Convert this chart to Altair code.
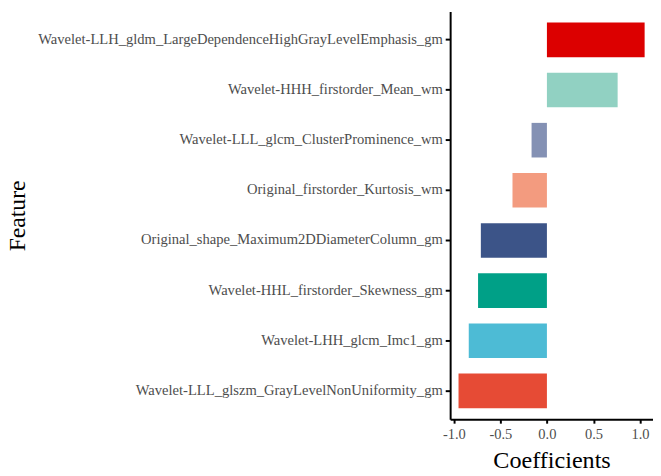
import altair as alt
import pandas as pd

features = [
    "Wavelet-LLH_gldm_LargeDependenceHighGrayLevelEmphasis_gm",
    "Wavelet-HHH_firstorder_Mean_wm",
    "Wavelet-LLL_glcm_ClusterProminence_wm",
    "Original_firstorder_Kurtosis_wm",
    "Original_shape_Maximum2DDiameterColumn_gm",
    "Wavelet-HHL_firstorder_Skewness_gm",
    "Wavelet-LHH_glcm_Imc1_gm",
    "Wavelet-LLL_glszm_GrayLevelNonUniformity_gm",
]
coefficients = [1.05, 0.76, -0.165, -0.37, -0.71, -0.74, -0.84, -0.95]
colors = ["#DC0000", "#91D1C2", "#8491B4", "#F39B7F", "#3C5488", "#00A087", "#4DBBD5", "#E64B35"]
x_ticks = [-1.0, -0.5, 0.0, 0.5, 1.0]

df = pd.DataFrame({"Feature": features, "Coefficients": coefficients})

font = "Liberation Serif"

chart = alt.Chart(df).mark_bar().encode(
    x=alt.X(
        "Coefficients:Q",
        scale=alt.Scale(domain=[-1.04, 1.14], nice=False, zero=False),
        axis=alt.Axis(
            values=x_ticks,
            labelExpr="datum.value < 0 ? '-' + format(-datum.value, '.1f') : format(datum.value, '.1f')",
            title="Coefficients",
            grid=False,
            domainColor="black",
            domainWidth=2,
            tickColor="black",
            tickWidth=2,
            tickSize=4,
            labelColor="#4D4D4D",
            labelFont=font,
            labelFontSize=14.7,
            labelPadding=4,
            titleFont=font,
            titleFontSize=24.5,
            titleFontWeight="normal",
            titleColor="black",
            titleY=49,
            titleBaseline="alphabetic",
        ),
    ),
    y=alt.Y(
        "Feature:N",
        sort=features,
        scale=alt.Scale(paddingInner=0.31, paddingOuter=0.22),
        axis=alt.Axis(
            title="Feature",
            grid=False,
            domainColor="black",
            domainWidth=2,
            tickColor="black",
            tickWidth=2,
            tickSize=5,
            labelColor="#4D4D4D",
            labelFont=font,
            labelFontSize=14.8,
            labelPadding=3,
            labelLimit=1000,
            titleFont=font,
            titleFontSize=24,
            titleFontWeight="normal",
            titleColor="black",
            titleX=-432,
            titleY=207,
            titleAngle=-90,
            titleBaseline="alphabetic",
            titleAlign="center",
        ),
    ),
    color=alt.Color(
        "Feature:N",
        scale=alt.Scale(domain=features, range=colors),
        legend=None,
    ),
).properties(
    width=206,
    height=414,
    autosize=alt.AutoSizeParams(type="none"),
    padding={"left": 449, "top": 0, "right": 0, "bottom": 52},
).configure_view(strokeWidth=0)

chart.save("out.html", embed_options={"renderer": "svg", "actions": False})
